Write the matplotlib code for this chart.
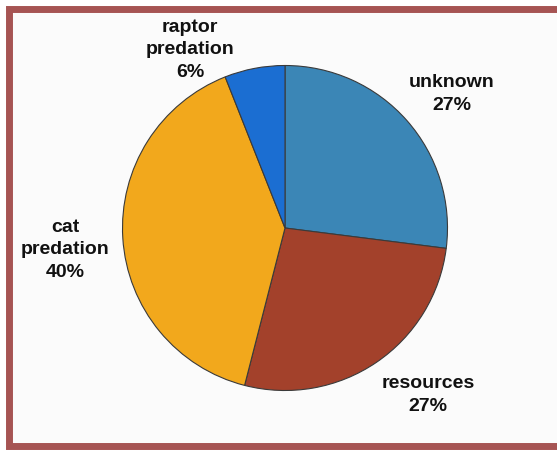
import matplotlib
matplotlib.use("Agg")
import matplotlib.pyplot as plt
from matplotlib.patches import Rectangle

categories = ["unknown", "resources", "cat\npredation", "raptor\npredation"]
values = [27, 27, 40, 6]
pct_labels = ["27%", "27%", "40%", "6%"]
colors = ["#3b86b6", "#a3412b", "#f2a81c", "#1b6ed2"]

W, H = 557, 450
fig = plt.figure(figsize=(W / 100, H / 100), dpi=100)
fig.patch.set_facecolor("white")
ax = fig.add_axes([0, 0, 1, 1])
ax.set_xlim(0, W)
ax.set_ylim(0, H)
ax.set_aspect("equal")
ax.axis("off")

# frame
ax.add_patch(Rectangle((9, 4.5), 560, 437, facecolor="#fbfbfb",
                       edgecolor="#a65453", linewidth=5, zorder=0))

cx, cy, r = 285, H - 228, 162.5
ax.pie(values, colors=colors, startangle=90, counterclock=False,
       center=(cx, cy), radius=r, frame=True,
       wedgeprops=dict(edgecolor="#3a3a3a", linewidth=0.8))
ax.set_xlim(0, W)
ax.set_ylim(0, H)
ax.axis("off")

label_pos = [(452, H - 94), (428, H - 395), (65, H - 250), (190, H - 50)]
for cat, pct, (x, y) in zip(categories, pct_labels, label_pos):
    ax.text(x, y, f"{cat}\n{pct}", ha="center", va="center",
            fontsize=14, fontweight="bold", family="Liberation Sans",
            color="#111111", linespacing=1.4)

fig.savefig("out.png", dpi=100, facecolor="white")
